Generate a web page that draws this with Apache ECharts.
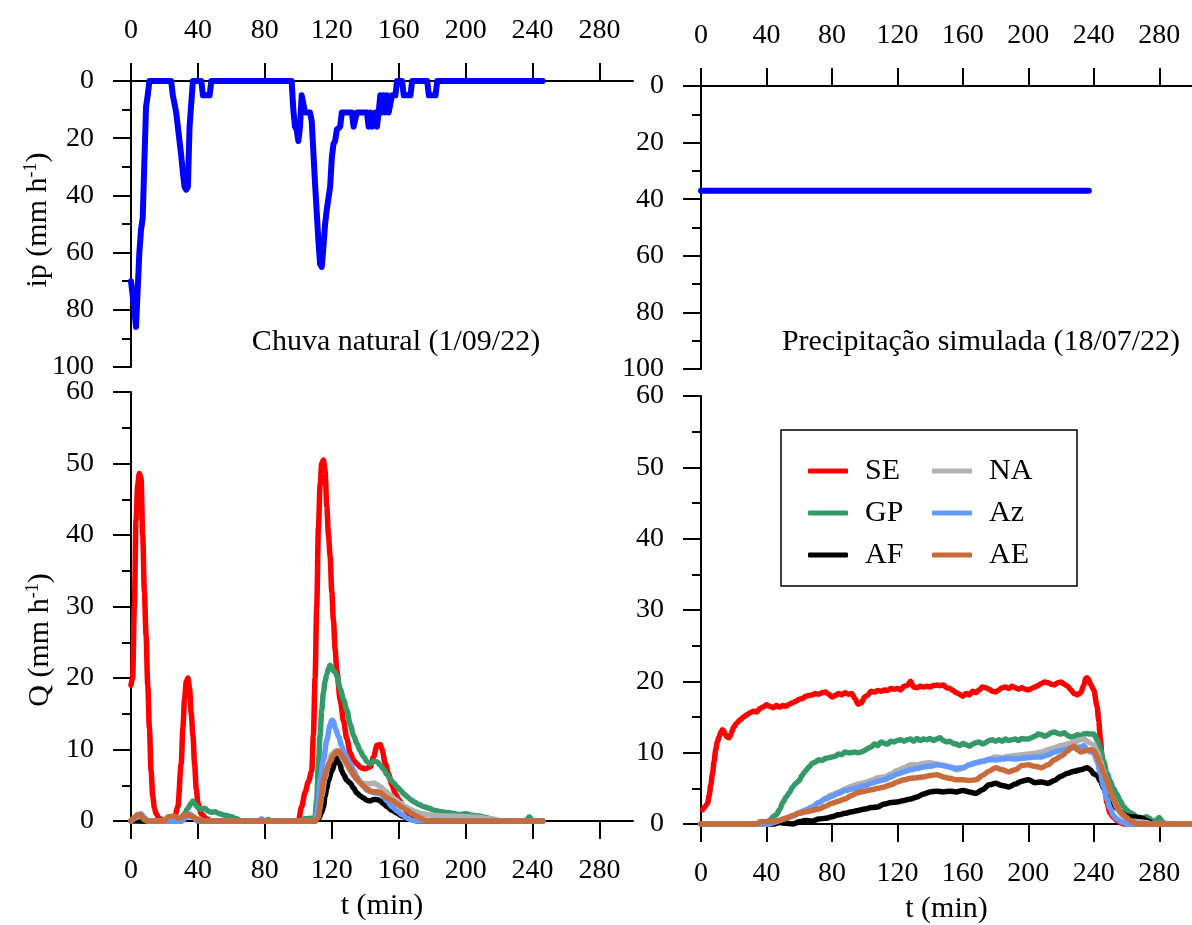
<!DOCTYPE html>
<html>
<head>
<meta charset="utf-8">
<script src="https://cdn.jsdelivr.net/npm/echarts@6/dist/echarts.min.js"></script>
<style>
  html, body { margin: 0; padding: 0; background: #fff; }
  #chart { width: 1192px; height: 925px; }
</style>
</head>
<body>
<div id="chart"></div>
<script>
// tick values shared by the time axes
const timeTicks = [0, 40, 80, 120, 160, 200, 240, 280]

// rainfall intensity, natural event (t min, ip mm/h)
const rainNat = [
  [0, 70], [1, 70], [2, 80], [3, 86], [4, 86], [5, 60], [6, 52], [7, 48], [8, 28], [9, 9], [10, 5], [11, 0],
  [24, 0], [25, 5], [26, 5], [27, 11], [28, 11], [29, 21], [30, 26], [31, 32], [32, 37], [33, 38], [34, 37],
  [35, 16], [36, 8], [37, 0], [42, 0], [43, 5], [47, 5], [48, 0],
  [96, 0], [97, 10], [98, 16], [99, 17], [100, 21], [101, 16], [102, 5], [103, 8], [104, 11], [107, 11],
  [108, 14], [109, 25], [110, 36], [111, 46], [112, 56], [113, 64], [114, 65], [115, 58], [116, 50],
  [117, 45], [118, 41], [119, 37], [120, 27], [121, 22], [122, 21], [123, 17], [125, 16], [126, 11],
  [132, 11], [133, 16], [134, 16], [135, 11], [141, 11], [142, 16], [143, 11], [144, 16], [145, 16],
  [146, 11], [147, 16], [148, 11], [149, 5], [150, 11], [151, 5], [152, 11], [153, 5], [154, 11],
  [155, 11], [156, 5], [158, 5], [159, 0], [162, 0], [163, 5], [167, 5], [168, 0], [177, 0], [178, 5],
  [182, 5], [183, 0], [246, 0],
]

// rainfall intensity, simulated event
const rainSim = [[0, 37], [237, 37]]

const seriesNames = ['SE', 'GP', 'AF', 'NA', 'Az', 'AE']
const seriesColors = ['#ff0000', '#339966', '#000000', '#b0b0b0', '#6699ff', '#c86b3b']

// runoff Q (mm/h), natural rain 1/09/22
const natSE = [
  [0, 19], [1, 20], [2, 30], [3, 42], [4, 47], [5, 48.6], [6, 48], [7, 40], [8, 32], [9, 26], [10, 19],
  [11, 13], [12, 7], [13, 3.5], [14, 1.8], [15, 1], [17, 0.3], [20, 0], [26, 0.5], [28, 2], [30, 8],
  [31, 13], [32, 17], [33, 19.5], [34, 20], [35, 18.5], [36, 15], [37, 12], [38, 8], [39, 4.5], [40, 2.5],
  [42, 1], [45, 0.3], [48, 0], [100, 0], [102, 2], [104, 4], [106, 5.5], [108, 7], [109, 12], [110, 20],
  [111, 30], [112, 41], [113, 47], [114, 50], [115, 50.5], [116, 49], [117, 44], [118, 40], [119, 37],
  [120, 32], [121, 28], [122, 24], [123, 21], [125, 17], [127, 14], [129, 11.5], [131, 9.5], [133, 8.5],
  [135, 8], [137, 7.5], [140, 7.3], [143, 7.6], [145, 9], [147, 10.6], [149, 10.7], [150, 10], [152, 8],
  [154, 6.5], [156, 5], [158, 3.8], [160, 3], [163, 2], [165, 1.2], [168, 0.5], [172, 0.2], [175, 0], [246, 0],
]
const natGP = [
  [0, 0], [2, 0.3], [4, 0.2], [6, 0], [28, 0], [30, 0.5], [32, 1], [34, 1.8], [36, 2.5], [37, 2.8], [38, 2.4],
  [40, 1.9], [42, 1.6], [44, 1.8], [46, 1.4], [48, 1.2], [50, 1.3], [53, 1], [56, 0.8], [60, 0.6], [63, 0.3],
  [66, 0], [80, 0], [82, 0.2], [84, 0], [100, 0], [104, 0.3], [108, 0.4], [110, 0.5], [111, 3], [112, 8],
  [113, 12], [114, 15.5], [115, 18], [116, 19.5], [117, 20.5], [118, 21.3], [119, 21.8], [120, 21.5],
  [121, 21], [122, 20.8], [123, 20.3], [125, 18.5], [127, 17], [129, 15.5], [131, 13.5], [133, 12],
  [135, 10.8], [137, 9.8], [139, 9], [141, 8.3], [143, 8], [145, 8.4], [147, 8.3], [149, 7.8], [151, 7.2],
  [153, 6.5], [155, 5.8], [157, 5.3], [159, 4.8], [161, 4.3], [163, 3.8], [165, 3.4], [167, 3], [169, 2.7],
  [172, 2.3], [175, 2], [178, 1.8], [181, 1.5], [185, 1.3], [188, 1.2], [192, 1.1], [196, 0.9], [200, 1],
  [204, 0.8], [208, 0.7], [212, 0.5], [216, 0.2], [220, 0], [236, 0], [238, 0.6], [240, 0], [246, 0],
]
const natAF = [
  [0, 0], [30, 0], [33, 0.5], [36, 0.8], [38, 0.3], [40, 0], [110, 0], [112, 0.3], [114, 1.2], [115, 2],
  [116, 3.5], [117, 4.6], [118, 5.7], [120, 7], [122, 8.2], [123, 8.8], [124, 8.7], [125, 7.8], [126, 7],
  [127, 6.5], [129, 5.7], [131, 5.3], [133, 4.6], [135, 3.9], [137, 3.5], [139, 3.2], [141, 2.9], [143, 2.8],
  [145, 3], [147, 3], [149, 2.8], [151, 2.4], [153, 2], [156, 1.5], [159, 1.1], [162, 0.7], [165, 0.4],
  [168, 0.2], [171, 0], [246, 0],
]
const natNA = [
  [0, 0], [3, 0.5], [6, 0.7], [8, 0.2], [10, 0], [30, 0], [33, 0.5], [36, 0.8], [40, 0.3], [44, 0],
  [110, 0], [112, 1], [114, 3.5], [116, 6], [118, 8], [120, 9.3], [122, 9.8], [123, 9.9], [125, 9.3],
  [127, 8.5], [129, 7.8], [131, 7], [133, 6.3], [135, 5.8], [137, 5.5], [140, 5.2], [143, 5.2], [145, 5.3],
  [147, 5.1], [149, 4.8], [152, 4.2], [155, 3.6], [158, 3], [161, 2.5], [164, 2], [167, 1.6], [170, 1.3],
  [174, 1], [180, 0.8], [190, 0.7], [200, 0.6], [208, 0.5], [215, 0.3], [222, 0], [246, 0],
]
const natAz = [
  [0, 0], [2, 0.3], [4, 0.8], [6, 1], [8, 0.5], [10, 0], [30, 0], [33, 0.6], [35, 1], [37, 0.5], [40, 0],
  [76, 0], [78, 0.3], [80, 0], [110, 0], [111, 1], [112, 3], [113, 5.7], [115, 8.5], [117, 11.3], [119, 13.5],
  [120, 14.1], [121, 14], [122, 13], [124, 11.8], [126, 10.5], [127, 9.8], [129, 8.8], [131, 8], [133, 7.1],
  [135, 6.2], [137, 5.4], [139, 4.8], [141, 4.3], [143, 4.1], [145, 4], [147, 3.9], [149, 3.8], [151, 3.4],
  [153, 2.8], [156, 2], [159, 1.4], [162, 0.9], [165, 0.4], [168, 0.1], [171, 0], [246, 0],
]
const natAE = [
  [0, 0], [2, 0.5], [4, 0.9], [6, 0.8], [8, 0.2], [10, 0], [20, 0], [22, 0.6], [26, 0.7], [28, 0.4], [30, 0.5],
  [33, 0.9], [36, 0.7], [40, 0.2], [45, 0], [110, 0], [112, 0.5], [113, 2], [114, 3.8], [115, 5.7], [117, 7.2],
  [119, 8.3], [121, 9.2], [123, 9.7], [124, 9.8], [125, 9.5], [127, 8.8], [129, 8.1], [131, 7.3], [133, 6.5],
  [135, 5.8], [137, 5.3], [139, 4.9], [141, 4.5], [143, 4.2], [145, 4.1], [147, 4.1], [149, 4], [151, 3.6],
  [153, 3.2], [156, 2.9], [159, 2.4], [162, 1.9], [165, 1.5], [168, 1], [171, 0.6], [173, 0.4], [176, 0.1],
  [180, 0], [246, 0],
]

// runoff Q (mm/h), simulated rain 18/07/22
const simSE = [
  [1, 2], [2, 2.3], [3, 2.6], [4, 2.9], [5, 4], [6, 5.5], [7, 7], [8, 8.8], [9, 10.4], [10, 11.5], [11, 12.2],
  [12, 12.8], [13, 13.2], [14, 13], [15, 12.5], [16, 12.2], [17, 12.1], [18, 12.4], [19, 13], [20, 13.6],
  [22, 14.2], [24, 14.6], [26, 15], [28, 15.3], [30, 15.6], [32, 15.8], [34, 15.7], [36, 16.2], [38, 16.4],
  [40, 16.7], [42, 16.5], [44, 16.3], [46, 16.6], [48, 16.4], [50, 16.6], [52, 16.5], [54, 16.8], [56, 17],
  [58, 17.2], [60, 17.5], [62, 17.6], [64, 17.9], [66, 18], [68, 18.1], [70, 18.3], [72, 18.2], [74, 18.4],
  [76, 18.5], [78, 18.2], [80, 17.8], [82, 18], [84, 18.3], [86, 18.1], [88, 18.4], [90, 18.2], [92, 18.3],
  [94, 17.6], [96, 16.8], [98, 17], [100, 17.8], [102, 18.1], [104, 18.6], [106, 18.5], [108, 18.7],
  [110, 18.6], [112, 18.8], [114, 18.7], [116, 19], [118, 18.9], [120, 19], [122, 18.8], [124, 19.3],
  [126, 19.4], [128, 20], [130, 19.2], [132, 19.1], [134, 19.3], [136, 19.2], [138, 19.3], [140, 19.2],
  [142, 19.4], [144, 19.5], [146, 19.4], [148, 19.5], [150, 19.1], [152, 19], [154, 18.7], [156, 18.4],
  [158, 18.2], [160, 17.9], [162, 18.3], [164, 18.1], [166, 18.6], [168, 18.4], [170, 18.8], [172, 19.2],
  [174, 19.1], [176, 18.9], [178, 18.6], [180, 18.5], [182, 18.8], [184, 19.1], [186, 19.2], [188, 19],
  [190, 19.3], [192, 19.1], [194, 18.9], [196, 19.1], [198, 18.9], [200, 18.8], [202, 19], [204, 19.2],
  [206, 19.4], [208, 19.7], [210, 19.9], [212, 19.8], [214, 19.6], [216, 19.5], [218, 19.8], [220, 19.9],
  [222, 19.6], [224, 19.3], [226, 18.8], [228, 18.3], [230, 18.1], [232, 18.4], [234, 19.5], [235, 20.4],
  [236, 20.5], [237, 20.2], [238, 19.6], [240, 18.8], [242, 16.5], [243, 14.5], [244, 12], [245, 9.5],
  [246, 6.5], [247, 4.5], [248, 3], [250, 1.5], [252, 0.9], [254, 0.5], [256, 0.2], [258, 0], [300, 0],
]
const simGP = [
  [0, 0], [36, 0], [40, 0.3], [42, 0.5], [44, 1], [46, 1.3], [48, 2], [50, 3], [52, 3.8], [54, 4.4], [56, 5.2],
  [58, 5.7], [60, 6.1], [62, 6.9], [64, 7.5], [66, 8], [68, 8.5], [70, 8.7], [72, 9], [74, 8.9], [76, 9.2],
  [78, 9.3], [80, 9.4], [82, 9.5], [84, 9.8], [86, 9.7], [88, 10.1], [90, 10], [92, 10], [94, 10.1], [96, 10],
  [98, 10.1], [100, 10.3], [102, 10.6], [104, 10.8], [106, 11.2], [108, 11], [110, 11.5], [112, 11.3],
  [114, 11.2], [116, 11.6], [118, 11.5], [120, 11.7], [122, 11.8], [124, 11.6], [126, 11.8], [128, 11.9],
  [130, 11.6], [132, 12], [134, 11.7], [136, 11.9], [138, 11.8], [140, 12], [142, 11.7], [144, 11.9],
  [146, 12.1], [148, 11.7], [150, 11.5], [152, 11.6], [154, 11.3], [156, 11.2], [158, 11], [160, 11.3],
  [162, 11.1], [164, 10.9], [166, 11.2], [168, 11.4], [170, 11.5], [172, 11.2], [174, 11.4], [176, 11.7],
  [178, 11.8], [180, 11.6], [182, 11.8], [184, 11.6], [186, 11.9], [188, 11.7], [190, 11.8], [192, 11.9],
  [194, 11.7], [196, 12], [198, 11.9], [200, 11.9], [202, 12.1], [204, 12.3], [206, 12.6], [208, 12.5],
  [210, 12.3], [212, 12.5], [214, 12.8], [216, 12.9], [218, 12.7], [220, 12.6], [222, 12.8], [224, 12.4],
  [226, 12.2], [228, 12.3], [230, 12.5], [232, 12.4], [234, 12.6], [236, 12.7], [238, 12.6], [240, 12.6],
  [242, 11.8], [244, 10.5], [246, 8.8], [248, 7.2], [250, 6], [252, 5], [254, 4.2], [256, 3.3], [258, 2.5],
  [260, 2], [262, 1.6], [264, 1.4], [266, 1], [268, 0.6], [270, 0.8], [272, 1], [274, 0.8], [276, 0.3],
  [278, 0.5], [280, 0.9], [282, 0.3], [284, 0], [300, 0],
]
const simAF = [
  [0, 0], [44, 0], [48, 0.2], [52, 0.1], [56, 0], [60, 0.3], [64, 0.5], [68, 0.4], [72, 0.7], [76, 0.8],
  [80, 1], [84, 1.3], [88, 1.5], [92, 1.7], [96, 1.9], [100, 2.1], [104, 2.3], [108, 2.4], [112, 2.8],
  [116, 3], [120, 3.1], [124, 3.3], [128, 3.5], [132, 3.8], [136, 4.2], [140, 4.5], [144, 4.6], [148, 4.5],
  [152, 4.6], [156, 4.5], [160, 4.7], [164, 4.5], [168, 4.3], [172, 4.8], [176, 5.5], [180, 5.7], [184, 5.4],
  [188, 5.2], [192, 5.6], [196, 6], [200, 6.2], [204, 5.8], [208, 5.9], [212, 5.7], [216, 6.1], [220, 6.7],
  [224, 7.1], [228, 7.4], [232, 7.6], [236, 7.9], [238, 7.6], [240, 7], [242, 6.8], [244, 6], [246, 5],
  [248, 4.1], [250, 3.3], [252, 2.7], [254, 2.2], [256, 1.8], [258, 1.4], [260, 1.1], [264, 1], [268, 0.9],
  [270, 0.8], [272, 0.5], [274, 0.3], [276, 0], [300, 0],
]
const simNA = [
  [0, 0], [40, 0], [44, 0.2], [48, 0.5], [52, 0.8], [56, 1.2], [60, 1.6], [64, 2], [68, 2.4], [72, 3],
  [76, 3.6], [80, 4.1], [84, 4.5], [88, 4.9], [92, 5.3], [96, 5.6], [100, 5.8], [104, 6.1], [108, 6.5],
  [112, 6.6], [116, 7], [120, 7.5], [124, 7.9], [128, 8.3], [132, 8.3], [136, 8.5], [140, 8.6], [144, 8.4],
  [148, 8.2], [152, 8], [156, 7.6], [160, 7.8], [164, 8.3], [168, 8.6], [172, 8.8], [176, 9.1], [180, 9.4],
  [184, 9.3], [188, 9.5], [192, 9.6], [196, 9.7], [200, 9.8], [204, 9.9], [208, 10.1], [212, 10.4],
  [216, 10.7], [220, 11], [224, 11.2], [228, 11.5], [232, 11.8], [234, 11.9], [236, 11.6], [238, 11.3],
  [240, 11.1], [242, 10.2], [244, 8.8], [246, 7.4], [248, 6], [250, 4.5], [252, 3.4], [254, 2.4],
  [256, 1.5], [258, 1], [260, 0.7], [262, 0.5], [264, 0.4], [268, 0.3], [272, 0.2], [276, 0], [300, 0],
]
const simAz = [
  [0, 0], [40, 0], [44, 0.2], [48, 0.5], [52, 0.8], [56, 1.1], [60, 1.5], [64, 1.9], [68, 2.4], [72, 3],
  [76, 3.5], [80, 3.9], [84, 4.3], [88, 4.7], [92, 4.9], [96, 5.1], [100, 5.4], [104, 5.7], [108, 6],
  [112, 6.2], [116, 6.6], [120, 7], [124, 7.3], [128, 7.6], [132, 7.8], [136, 8], [140, 8.1], [144, 8.3],
  [148, 8.2], [152, 8], [156, 7.8], [160, 7.9], [164, 8.3], [168, 8.6], [172, 8.8], [176, 9], [180, 9],
  [184, 9.1], [188, 9.2], [192, 9.1], [196, 9.2], [200, 9.3], [204, 9.4], [208, 9.4], [212, 9.7],
  [216, 10.1], [220, 10.3], [224, 10.5], [228, 10.7], [232, 10.8], [234, 11], [236, 10.4], [238, 10.1],
  [240, 10], [242, 8.8], [244, 7.1], [246, 5.2], [248, 3.5], [250, 2.2], [252, 1.2], [254, 0.7],
  [256, 0.4], [258, 0.2], [260, 0], [300, 0],
]
const simAE = [
  [0, 0], [34, 0], [36, 0.3], [40, 0.3], [44, 0.4], [48, 0.5], [52, 0.8], [56, 1.2], [60, 1.5], [64, 1.7],
  [68, 1.9], [72, 2.1], [76, 2.5], [80, 2.9], [84, 3.2], [88, 3.5], [92, 4], [96, 4.4], [100, 4.6],
  [104, 4.8], [108, 5], [112, 5.2], [116, 5.5], [120, 5.9], [124, 6.2], [128, 6.4], [132, 6.5], [136, 6.6],
  [140, 6.8], [144, 6.9], [148, 6.6], [152, 6.4], [156, 6.2], [160, 6.2], [164, 6.1], [168, 6.2],
  [172, 6.8], [176, 7.4], [180, 7.9], [184, 7.6], [188, 7.3], [192, 7.6], [196, 8.2], [200, 8.3],
  [204, 8.1], [208, 7.9], [212, 8.3], [216, 9], [220, 9.5], [224, 10.2], [226, 10.7], [228, 10.9],
  [230, 10.4], [232, 10.1], [236, 10.3], [238, 10.4], [240, 10.3], [242, 9.5], [244, 8.3], [246, 7.2],
  [248, 6], [250, 4.7], [252, 3.5], [254, 2.6], [256, 1.8], [258, 1.3], [260, 0.9], [262, 0.5],
  [264, 0.3], [266, 0], [300, 0],
]

const natData = [natSE, natGP, natAF, natNA, natAz, natAE]
const simData = [simSE, simGP, simAF, simNA, simAz, simAE]

const FONT = '"Liberation Serif", "Times New Roman", serif'
const FS = 28   // tick labels
const FT = 30   // names, notes, legend
const AXIS_LINE = { lineStyle: { color: '#000', width: 2 } }

function timeAxis(gridIndex, position, withName) {
  return {
    gridIndex,
    type: 'value',
    position,
    min: 0,
    max: 300,
    interval: 40,
    axisLine: { show: true, onZero: false, ...AXIS_LINE },
    axisTick: { show: true, length: 18, lineStyle: { color: '#000', width: 2 }, customValues: timeTicks },
    axisLabel: {
      margin: 36, color: '#000', fontFamily: FONT, fontSize: FS,
      customValues: timeTicks,
    },
    splitLine: { show: false },
    name: withName ? 't (min)' : '',
    nameLocation: 'middle',
    nameGap: 70,
    nameTextStyle: { color: '#000', fontFamily: FONT, fontSize: FT },
  }
}

function valueAxis(gridIndex, max, interval, inverse) {
  return {
    gridIndex,
    type: 'value',
    min: 0,
    max,
    interval,
    inverse,
    axisLine: { show: true, onZero: false, ...AXIS_LINE },
    axisTick: { show: true, length: 18, lineStyle: { color: '#000', width: 2 } },
    minorTick: { show: true, splitNumber: 2, length: 9, lineStyle: { color: '#000', width: 2 } },
    axisLabel: { margin: 37, color: '#000', fontFamily: FONT, fontSize: FS },
    splitLine: { show: false },
  }
}

function qSeries(data, axisIndex) {
  return data.map((d, i) => ({
    name: seriesNames[i],
    type: 'line',
    xAxisIndex: axisIndex,
    yAxisIndex: axisIndex,
    data: d,
    symbol: 'none',
    smooth: 0.3,
    smoothMonotone: 'x',
    clip: false,
    lineStyle: { color: seriesColors[i], width: 5.5, cap: 'round', join: 'round' },
    itemStyle: { color: seriesColors[i] },
  }))
}

const rainLine = { color: '#0000ff', width: 6, cap: 'round', join: 'round' }

const legendBase = {
  orient: 'vertical',
  itemWidth: 40,
  itemHeight: 5,
  itemGap: 12,
  icon: 'roundRect',
  textStyle: { color: '#000', fontFamily: FONT, fontSize: FT, padding: [0, 0, 0, 12] },
  selectedMode: false,
}

function yName(text, x, y) {
  return {
    type: 'text', x, y, rotation: Math.PI / 2,
    style: {
      text: `{a|${text} (mm h}{s|-1}{a|)}`,
      align: 'center', verticalAlign: 'middle',
      rich: {
        a: { fontFamily: FONT, fontSize: FT, lineHeight: 32, fill: '#000' },
        s: { fontFamily: FONT, fontSize: 18, lineHeight: 32, verticalAlign: 'top', fill: '#000' },
      },
    },
  }
}

const chart = echarts.init(document.getElementById('chart'), null, { renderer: 'canvas' })

chart.setOption({
  animation: false,
  backgroundColor: '#fff',
  grid: [
    { left: 131, top: 81, width: 502, height: 286 },
    { left: 701, top: 86, width: 500, height: 283 },
    { left: 131, top: 392, width: 502, height: 429 },
    { left: 701, top: 396, width: 500, height: 428 },
  ],
  xAxis: [
    timeAxis(0, 'top', false),
    timeAxis(1, 'top', false),
    timeAxis(2, 'bottom', true),
    timeAxis(3, 'bottom', true),
  ],
  yAxis: [
    valueAxis(0, 100, 20, true),
    valueAxis(1, 100, 20, true),
    valueAxis(2, 60, 10, false),
    valueAxis(3, 60, 10, false),
  ],
  legend: [
    { ...legendBase, data: ['SE', 'GP', 'AF'], left: 803, top: 451 },
    { ...legendBase, data: ['NA', 'Az', 'AE'], left: 927, top: 451 },
  ],
  graphic: [
    {
      type: 'rect',
      shape: { x: 781, y: 430, width: 296, height: 156 },
      style: { fill: 'none', stroke: '#000', lineWidth: 1.5 },
    },
    {
      type: 'text', x: 396, y: 342,
      style: { text: 'Chuva natural (1/09/22)', font: `${FT}px ${FONT}`, fill: '#000', align: 'center', verticalAlign: 'middle' },
    },
    {
      type: 'text', x: 981, y: 342,
      style: { text: 'Precipitação simulada (18/07/22)', font: `${FT}px ${FONT}`, fill: '#000', align: 'center', verticalAlign: 'middle' },
    },
    yName('ip', 38, 220),
    yName('Q', 40, 640),
  ],
  series: [
    {
      name: 'ip natural',
      type: 'line',
      xAxisIndex: 0,
      yAxisIndex: 0,
      data: rainNat,
      symbol: 'none',
      clip: false,
      lineStyle: rainLine,
    },
    {
      name: 'ip simulada',
      type: 'line',
      xAxisIndex: 1,
      yAxisIndex: 1,
      data: rainSim,
      symbol: 'none',
      clip: false,
      lineStyle: rainLine,
    },
    ...qSeries(natData, 2),
    ...qSeries(simData, 3),
  ],
})
</script>
</body>
</html>
